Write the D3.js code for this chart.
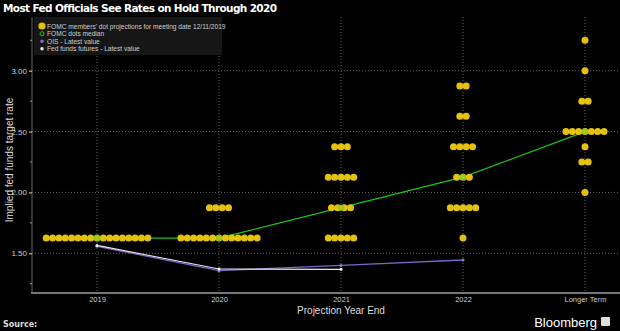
<!DOCTYPE html>
<html><head><meta charset="utf-8">
<script src="https://cdn.jsdelivr.net/npm/d3@7"></script>
<style>html,body{margin:0;padding:0;background:#000;}svg{display:block;}</style>
</head><body>
<script>
const categories = ["2019", "2020", "2021", "2022", "Longer Term"];
// dot plot: [category, rate, count]
const dotRates = [
  ["2019", 1.625, 17],
  ["2020", 1.875, 4], ["2020", 1.625, 13],
  ["2021", 2.375, 3], ["2021", 2.125, 5], ["2021", 1.875, 4], ["2021", 1.625, 5],
  ["2022", 2.875, 2], ["2022", 2.625, 2], ["2022", 2.375, 4], ["2022", 2.125, 3], ["2022", 1.875, 5], ["2022", 1.625, 1],
  ["Longer Term", 3.25, 1], ["Longer Term", 3.0, 1], ["Longer Term", 2.75, 2], ["Longer Term", 2.5, 7],
  ["Longer Term", 2.375, 1], ["Longer Term", 2.25, 2], ["Longer Term", 2.0, 1]
];
const medianValues = [1.625, 1.625, 1.875, 2.125, 2.5];
const oisValues = [1.558, 1.357, 1.40, 1.445];
const futuresValues = [1.565, 1.371, 1.368];
const yTicks = [1.5, 2.0, 2.5, 3.0];
const yMinorTicks = [1.25, 1.75, 2.25, 2.75, 3.25];
const legendLabels = ["FOMC members' dot projections for meeting date 12/11/2019", "FOMC dots median", "OIS - Latest value", "Fed funds futures - Latest value"];

const W = 620, H = 331;
const svg = d3.select("body").append("svg").attr("width", W).attr("height", H).style("background", "#000");
const font = "'Liberation Sans', Arial, sans-serif";

const plotLeft = 32, plotTop = 17, plotBottom = 293;
const x = d3.scalePoint().domain(categories).range([97, 585]);
const y = d3.scaleLinear().domain([1.5, 3.0]).range([253.3, 70.7]);

// grid
const grid = svg.append("g").attr("stroke", "#8a8a8a").attr("stroke-width", 0.7).attr("stroke-dasharray", "1,2");
grid.selectAll("line.h").data(yTicks).join("line").attr("class", "h")
  .attr("x1", plotLeft).attr("x2", W).attr("y1", d => y(d)).attr("y2", d => y(d));
grid.selectAll("line.v").data(categories).join("line").attr("class", "v")
  .attr("x1", d => x(d)).attr("x2", d => x(d)).attr("y1", plotTop).attr("y2", plotBottom);

// y axis
const yAxis = d3.axisLeft(y).tickValues(yTicks).tickFormat(d3.format(".2f")).tickSize(3).tickPadding(2);
const ya = svg.append("g").attr("transform", `translate(${plotLeft},0)`).call(yAxis);
ya.select(".domain").attr("stroke", "#666").attr("d", `M0,${plotTop}V${plotBottom}`);
ya.selectAll(".tick line").attr("stroke", "#ddd");
ya.selectAll(".tick text").attr("fill", "#ccc").style("font", `8px ${font}`);
svg.append("g").selectAll("line").data(yMinorTicks).join("line")
  .attr("x1", plotLeft - 2).attr("x2", plotLeft).attr("y1", d => y(d)).attr("y2", d => y(d))
  .attr("stroke", "#999").attr("stroke-width", 1);

// x axis
const xAxis = d3.axisBottom(x).tickSize(0).tickPadding(4);
const xa = svg.append("g").attr("transform", `translate(0,${plotBottom})`).call(xAxis);
xa.select(".domain").attr("stroke", "#777").attr("stroke-width", 2).attr("d", `M${plotLeft - 1},0H${W}`);
xa.selectAll(".tick text").attr("fill", "#ccc").style("font", `7.5px ${font}`);

// median line
const medianLine = d3.line().x((d, i) => x(categories[i])).y(d => y(d));
svg.append("path").datum(medianValues).attr("d", medianLine).attr("fill", "none").attr("stroke", "#1fc21a").attr("stroke-width", 1.3);

// OIS & futures
const ln = d3.line().x((d, i) => x(categories[i])).y(d => y(d));
svg.append("path").datum(oisValues).attr("d", ln).attr("fill", "none").attr("stroke", "#7a66c4").attr("stroke-width", 1.3);
svg.append("path").datum(futuresValues).attr("d", ln).attr("fill", "none").attr("stroke", "#e8e6f4").attr("stroke-width", 1.1);
svg.append("g").selectAll("circle").data(oisValues).join("circle")
  .attr("cx", (d, i) => x(categories[i])).attr("cy", d => y(d)).attr("r", 1.5).attr("fill", "#8a7ad0");
svg.append("g").selectAll("circle").data(futuresValues).join("circle")
  .attr("cx", (d, i) => x(categories[i])).attr("cy", d => y(d)).attr("r", 1.5).attr("fill", "#fff");

// dots
const spacing = 6.35;
const dots = [];
dotRates.forEach(([c, r, n]) => {
  for (let i = 0; i < n; i++) dots.push({ c, r, off: (i - (n - 1) / 2) * spacing });
});
svg.append("g").selectAll("circle").data(dots).join("circle")
  .attr("cx", d => x(d.c) + d.off).attr("cy", d => y(d.r)).attr("r", 3.5).attr("fill", "#e6c210");

// median markers
svg.append("g").selectAll("circle").data(medianValues).join("circle")
  .attr("cx", (d, i) => x(categories[i])).attr("cy", d => y(d)).attr("r", 2.6)
  .attr("fill", "#a9c92a").attr("stroke", "#5ad02a").attr("stroke-width", 0.8);

// legend
const lg = svg.append("g");
lg.append("rect").attr("x", 34).attr("y", 17).attr("width", 188).attr("height", 38).attr("fill", "#161616");
const ly = [26, 33.7, 41.3, 48.7];
lg.append("circle").attr("cx", 42).attr("cy", ly[0]).attr("r", 3.6).attr("fill", "#e6c210");
lg.append("circle").attr("cx", 42).attr("cy", ly[1]).attr("r", 2).attr("fill", "none").attr("stroke", "#1fc21a").attr("stroke-width", 1);
lg.append("circle").attr("cx", 42).attr("cy", ly[2]).attr("r", 1.8).attr("fill", "#7a66c4");
lg.append("circle").attr("cx", 42).attr("cy", ly[3]).attr("r", 1.8).attr("fill", "#e0e0e0");
lg.selectAll("text").data(legendLabels).join("text")
  .attr("x", 47).attr("y", (d, i) => ly[i] + 2.5).attr("fill", "#cfcfcf")
  .style("font", `6.6px ${font}`).text(d => d);

// titles
svg.append("text").attr("x", 3).attr("y", 11.5).attr("fill", "#fff")
  .style("font", `bold 10.5px 'DejaVu Sans', sans-serif`).attr("textLength", 274)
  .text("Most Fed Officials See Rates on Hold Through 2020");
svg.append("text").attr("transform", `translate(13,160) rotate(-90)`).attr("text-anchor", "middle")
  .attr("fill", "#ddd").style("font", `10px ${font}`).text("Implied fed funds target rate");
svg.append("text").attr("x", 341).attr("y", 314).attr("text-anchor", "middle")
  .attr("fill", "#ddd").style("font", `10px ${font}`).text("Projection Year End");
svg.append("text").attr("x", 3).attr("y", 327).attr("fill", "#ddd")
  .style("font", `bold 8px 'DejaVu Sans', sans-serif`).text("Source:");
svg.append("text").attr("x", 597).attr("y", 327).attr("text-anchor", "end")
  .attr("fill", "#fff").style("font", `13px ${font}`).text("Bloomberg");
svg.append("rect").attr("x", 601).attr("y", 317).attr("width", 9).attr("height", 9).attr("rx", 1).attr("fill", "#ddd");
</script>
</body></html>
